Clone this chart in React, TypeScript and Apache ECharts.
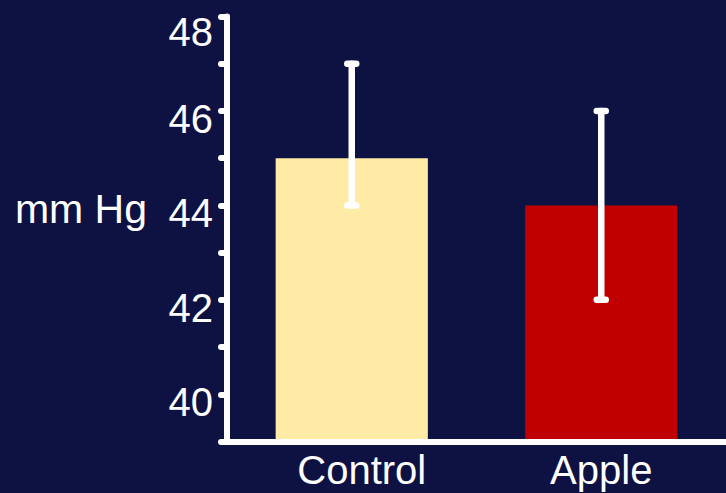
import React, { useEffect, useRef } from "react";
import * as echarts from "echarts";

const categories = ["Control", "Apple"];
const means = [45, 44];
const lower = [44, 42];
const upper = [47, 46];
const barColors = ["#ffeba5", "#c00000"];
const yTicks = [40, 42, 44, 46, 48];

const BG = "#0e1243";
const FONT = "Liberation Sans, Arial, sans-serif";

export default function App() {
  const ref = useRef<HTMLDivElement>(null);
  useEffect(() => {
    if (!ref.current) return;
    const chart = echarts.init(ref.current, undefined, { renderer: "svg" });
    const option: any = {
      animation: false,
      backgroundColor: BG,
      grid: { left: 227, top: 16.5, width: 504, height: 425 },
      xAxis: {
        type: "category",
        data: categories,
        z: 10,
        axisLine: { lineStyle: { color: "#fff", width: 6 } },
        axisTick: { show: false },
        axisLabel: {
          color: "#fff",
          fontSize: 40,
          fontFamily: FONT,
          margin: 8,
          formatter: (v: string) => (v === "Control" ? "{c|" + v + "}" : v),
          rich: { c: { color: "#fff", fontSize: 40, fontFamily: FONT, padding: [0, 0, 0, 20] } },
        },
      },
      yAxis: {
        type: "value",
        min: 39,
        max: 48,
        interval: 1,
        z: 10,
        name: "mm Hg",
        nameLocation: "middle",
        nameRotate: 0,
        nameGap: 80,
        nameTextStyle: {
          color: "#fff",
          fontSize: 41,
          fontFamily: FONT,
          verticalAlign: "bottom",
          lineHeight: 40,
        },
        splitLine: { show: false },
        axisLine: { show: true, lineStyle: { color: "#fff", width: 6, cap: "round" } },
        axisTick: { show: true, length: 6, lineStyle: { color: "#fff", width: 6, cap: "round" } },
        axisLabel: {
          color: "#fff",
          fontSize: 40,
          fontFamily: FONT,
          margin: 14,
          padding: [16, 0, 0, 0],
          formatter: (v: number) => (yTicks.includes(v) ? (v === 48 ? "{t|" + v + "}" : String(v)) : ""),
          rich: { t: { color: "#fff", fontSize: 40, fontFamily: FONT, padding: [14, 0, 0, 0] } },
        },
      },
      series: [
        {
          type: "bar",
          barWidth: "61%",
          data: means.map((v, i) => ({ value: v, itemStyle: { color: barColors[i] } })),
        },
        {
          type: "custom",
          z: 5,
          data: categories.map((c, i) => [i, lower[i], upper[i]]),
          renderItem: (params: any, api: any) => {
            const x = api.value(0);
            const lo = api.coord([x, api.value(1)]);
            const hi = api.coord([x, api.value(2)]);
            const half = 4.5;
            const style = { stroke: "#fff", lineWidth: 6.5, lineCap: "round" };
            return {
              type: "group",
              children: [
                { type: "line", shape: { x1: lo[0], y1: lo[1], x2: hi[0], y2: hi[1] }, style },
                { type: "line", shape: { x1: hi[0] - half, y1: hi[1], x2: hi[0] + half, y2: hi[1] }, style },
                { type: "line", shape: { x1: lo[0] - half, y1: lo[1], x2: lo[0] + half, y2: lo[1] }, style },
              ],
            };
          },
        },
      ],
    };
    chart.setOption(option);
    return () => chart.dispose();
  }, []);
  return (
    <div
      ref={ref}
      style={{ position: "fixed", left: 0, top: 0, width: 726, height: 493, background: BG }}
    />
  );
}
